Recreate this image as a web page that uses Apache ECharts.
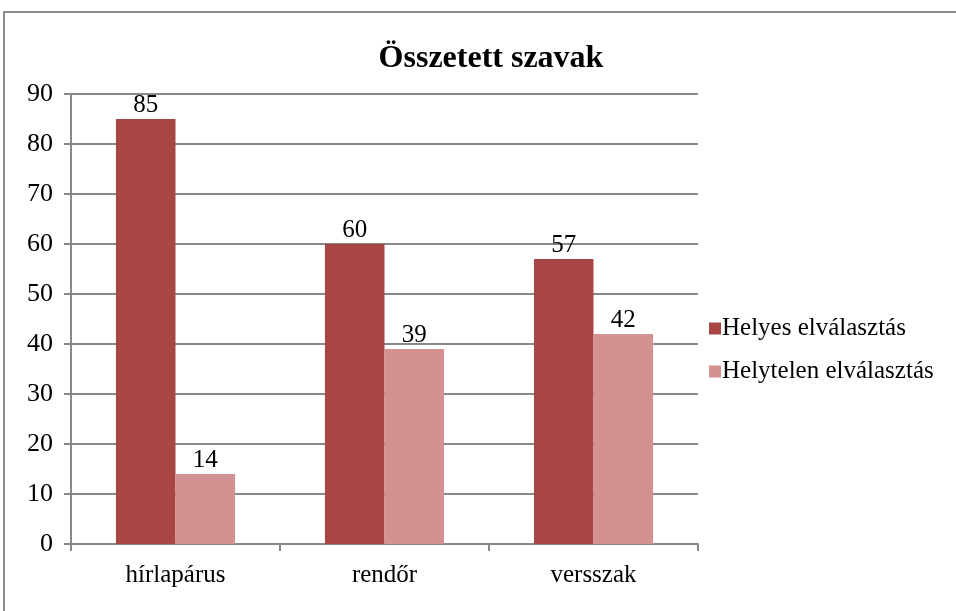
<!DOCTYPE html>
<html>
<head>
<meta charset="utf-8">
<script src="https://cdn.jsdelivr.net/npm/echarts@6/dist/echarts.min.js"></script>
<style>
  html, body { margin: 0; padding: 0; background: #fff; }
  #chart { width: 956px; height: 611px; }
</style>
</head>
<body>
<div id="chart"></div>
<script>
var categories = ['hírlapárus', 'rendőr', 'versszak'];
var helyes = [85, 60, 57];
var helytelen = [14, 39, 42];
var seriesNames = ['Helyes elválasztás', 'Helytelen elválasztás'];

var font = '"Liberation Serif", "Times New Roman", serif';
var chart = echarts.init(document.getElementById('chart'));

var labelStyle = { show: true, position: 'top', distance: 1, fontFamily: font, fontSize: 25, color: '#000' };

var option = {
  animation: false,
  backgroundColor: '#fff',
  color: ['#A84646', '#D39191'],
  textStyle: { fontFamily: font },
  graphic: [{
    type: 'rect',
    shape: { x: 4, y: 12, width: 980, height: 640 },
    style: { fill: 'none', stroke: '#8c8c8c', lineWidth: 2 }
  }],
  title: {
    text: 'Összetett szavak',
    left: 486,
    top: 38,
    textAlign: 'center',
    textStyle: { fontFamily: font, fontSize: 32, fontWeight: 'bold', color: '#000' }
  },
  legend: {
    orient: 'vertical',
    left: 704,
    top: 311,
    itemWidth: 12,
    itemHeight: 12,
    itemGap: 18,
    icon: 'rect',
    textStyle: { fontFamily: font, fontSize: 25, color: '#000', padding: [0, 0, 0, -4] },
    data: seriesNames
  },
  grid: { left: 71, right: 258, top: 94, bottom: 67 },
  xAxis: {
    type: 'category',
    data: categories,
    axisLine: { lineStyle: { color: '#888', width: 2 } },
    axisTick: { show: true, length: 7, lineStyle: { color: '#888', width: 2 } },
    axisLabel: { fontFamily: font, fontSize: 25, color: '#000', margin: 19 }
  },
  yAxis: {
    type: 'value',
    min: 0,
    max: 90,
    interval: 10,
    axisLine: { show: true, lineStyle: { color: '#888', width: 2 } },
    axisTick: { show: true, length: 7, lineStyle: { color: '#888', width: 2 } },
    axisLabel: { fontFamily: font, fontSize: 26, color: '#000', margin: 18 },
    splitLine: { lineStyle: { color: '#888', width: 2 } }
  },
  series: [
    {
      name: seriesNames[0],
      type: 'bar',
      data: helyes,
      barGap: '0%',
      barCategoryGap: '43%',
      label: labelStyle
    },
    {
      name: seriesNames[1],
      type: 'bar',
      data: helytelen,
      label: labelStyle
    }
  ]
};
chart.setOption(option);
</script>
</body>
</html>
